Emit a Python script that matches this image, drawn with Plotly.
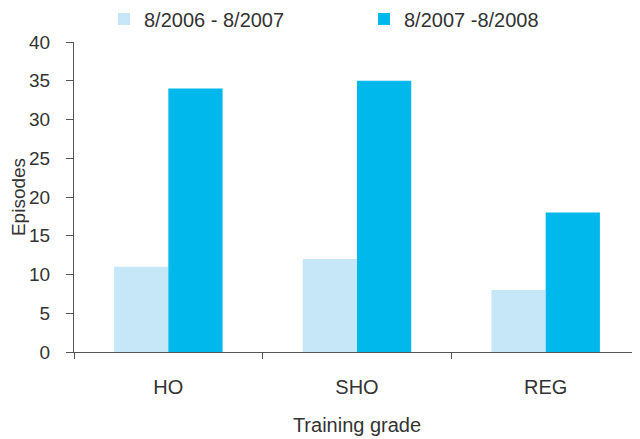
import plotly.graph_objects as go

# Data
grades = ['HO', 'SHO', 'REG']
period_1 = [11, 12, 8]     # 8/2006 - 8/2007
period_2 = [34, 35, 18]    # 8/2007 -8/2008
series_names = ['8/2006 - 8/2007', '8/2007 -8/2008']
y_ticks = [0, 5, 10, 15, 20, 25, 30, 35, 40]

LIGHT = '#C6E7F8'
DARK = '#00B8EC'
FONT = 'Liberation Sans, Arial, sans-serif'

# the page puts the figure 8px in from the top-left corner
W, H = 632, 431

fig = go.Figure()
fig.add_trace(go.Bar(x=grades, y=period_1, name=series_names[0],
                     marker=dict(color=LIGHT, line=dict(width=0))))
fig.add_trace(go.Bar(x=grades, y=period_2, name=series_names[1],
                     marker=dict(color=DARK, line=dict(width=0))))

fig.update_layout(
    width=W, height=H,
    margin=dict(l=66, r=0, t=34, b=87, autoexpand=False),
    paper_bgcolor='white', plot_bgcolor='white',
    font=dict(family=FONT, color='#333333'),
    barmode='group', bargap=0.425, bargroupgap=0,
    showlegend=True,
    legend=dict(orientation='h', xref='container', x=96 / W, xanchor='left',
                yref='container', y=1 - 11 / H, yanchor='middle',
                font=dict(size=20, color='#333333'),
                entrywidth=215, entrywidthmode='pixels',
                bgcolor='rgba(0,0,0,0)'),
)

fig.update_xaxes(
    type='category', range=[-0.5, 2.5],
    showline=True, linecolor='#555555', linewidth=1,
    ticks='outside', tickson='boundaries', ticklen=6, tickcolor='#555555',
    tickfont=dict(size=20, color='#333333'), ticklabelstandoff=17,
    showgrid=False, zeroline=False,
    title=dict(text='Training grade', font=dict(size=20, color='#333333'),
               standoff=20),
)
fig.update_yaxes(
    range=[0, 40], tickvals=y_ticks,
    showline=True, linecolor='#555555', linewidth=1,
    ticks='outside', ticklen=7, tickcolor='#555555',
    tickfont=dict(size=19, color='#333333'), ticklabelstandoff=12,
    showgrid=False, zeroline=False,
    title=dict(text='Episodes', font=dict(size=19, color='#333333'),
               standoff=9),
)

fig.write_html('out.html')
